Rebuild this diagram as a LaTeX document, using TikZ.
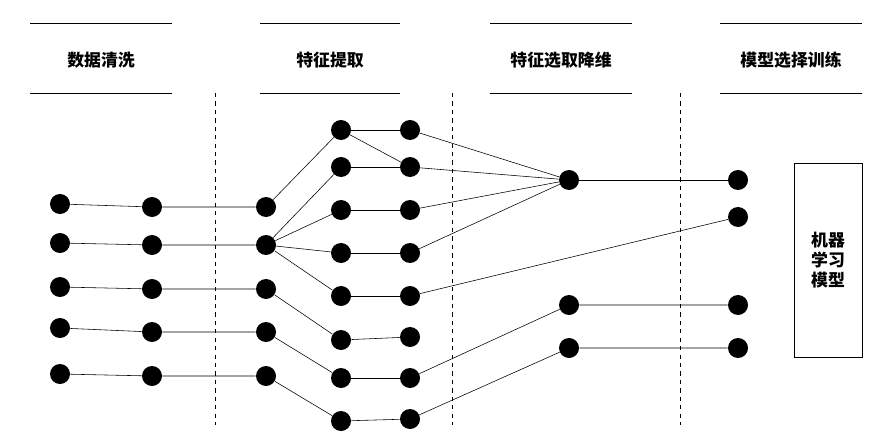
\documentclass[tikz,border=0pt]{standalone}
\usepackage{fontspec}
\newfontfamily\cjk{Noto Sans CJK SC}
\usetikzlibrary{positioning}

\begin{document}
\begin{tikzpicture}[x=0.025cm,y=-0.025cm,
  dot/.style={circle,fill=black,inner sep=0pt,minimum size=0.5cm},
  head/.style={font=\cjk\bfseries\large},
  sep/.style={dashed,thin}]
\useasboundingbox (0,0) rectangle (894,446);

% headers
\foreach \xa/\xb/\txt [count=\i] in {30/172/数据清洗,260/400/特征提取,490/632/特征选取降维,720/862/模型选择训练}{
  \draw (\xa,23) -- (\xb,23);
  \draw (\xa,93) -- (\xb,93);
  \node[head] (h\i) at ({(\xa+\xb)/2},60) {\txt};
}
\foreach \x in {215,452,680}
  \draw[sep] (\x,93) -- (\x,425);

% nodes
\foreach \y [count=\i] in {204,243,287,328,374} \node[dot] (a\i) at (60,\y) {};
\foreach \y [count=\i] in {207,245,289,332,376} \node[dot] (b\i) at (152,\y) {};
\foreach \y [count=\i] in {207,245,289,332,376} \node[dot] (c\i) at (266,\y) {};
\foreach \y [count=\i] in {130,167,210,253,296,340,378,421} \node[dot] (d\i) at (341,\y) {};
\foreach \y [count=\i] in {130,167,210,253,296,337,378,419} \node[dot] (e\i) at (410,\y) {};
\node[dot] (f) at (569,180) {};
\node[dot] (g1) at (569,305) {};
\node[dot] (g2) at (569,348) {};
\foreach \y [count=\i] in {180,217,305,348} \node[dot] (m\i) at (738,\y) {};
\draw (794,163) rectangle (862,357);
\node[head,align=center] (ml) at (828,260) {机器\\学习\\模型};

% edges
\foreach \i in {1,...,5} \draw (a\i) -- (b\i) -- (c\i);
\draw (c1) -- (d1);
\foreach \j in {2,...,5} \draw (c2) -- (d\j);
\draw (c3) -- (d6);
\draw (c4) -- (d7);
\draw (c5) -- (d8);
\foreach \j in {1,...,8} \draw (d\j) -- (e\j);
\draw (d1) -- (e2);
\foreach \j in {1,...,4} \draw (e\j) -- (f);
\draw (f) -- (m1);
\draw (e5) -- (m2);
\draw (e7) -- (g1) -- (m3);
\draw (e8) -- (g2) -- (m4);
\end{tikzpicture}
\end{document}
